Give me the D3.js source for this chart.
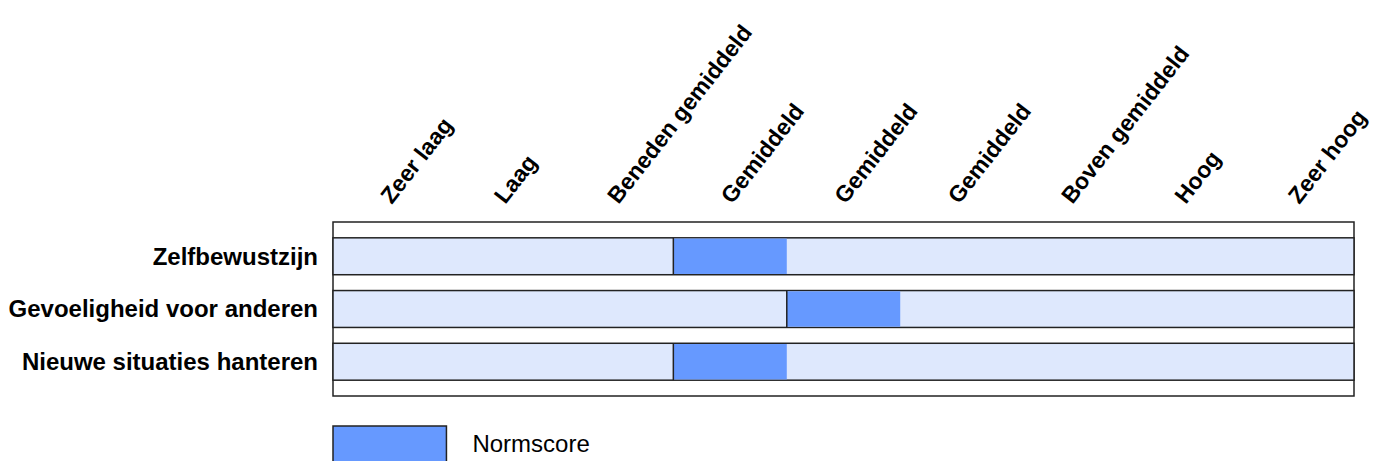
<!DOCTYPE html>
<head>
  <meta charset="utf-8">
  <script src="https://d3js.org/d3.v7.min.js"></script>
  <style>
    body { margin: 0; background: #fff; }
    text { font-family: "Liberation Sans", Arial, sans-serif; }
  </style>
</head>
<body>
  <div id="chart"></div>
</body>

<script>

// categories (columns) along the top
var levels = ["Zeer laag", "Laag", "Beneden gemiddeld", "Gemiddeld", "Gemiddeld",
              "Gemiddeld", "Boven gemiddeld", "Hoog", "Zeer hoog"];

// rows
var scales = ["Zelfbewustzijn", "Gevoeligheid voor anderen", "Nieuwe situaties hanteren"];

// norm score per row (1-based column)
var normscore = [4, 5, 4];

var legendLabel = "Normscore";

var W = 1381, H = 461;
var margin = {top: 222, left: 333, right: 27, bottom: 65};
var width = W - margin.left - margin.right,
    height = H - margin.top - margin.bottom;

var svg = d3.select("#chart")
  .append("svg")
    .attr("width", W)
    .attr("height", H)
  .append("g")
    .attr("transform", "translate(" + margin.left + "," + margin.top + ")");

var x = d3.scaleLinear()
  .domain([0, levels.length])
  .range([0, width]);

var y = d3.scaleBand()
  .domain(scales)
  .range([0, height])
  .paddingInner(0.3)
  .paddingOuter(0.3);

var colW = x(1) - x(0);

// outer frame
svg.append("rect")
  .attr("x", 0).attr("y", 0)
  .attr("width", width).attr("height", height)
  .style("fill", "#fff")
  .style("stroke", "#222")
  .style("stroke-width", 1.5);

// column labels, rotated
svg.append("g")
  .selectAll("text")
  .data(levels)
  .enter()
  .append("text")
    .attr("transform", function (d, i) {
      return "translate(" + (x(i) + colW / 2 + 2) + "," + (-17) + ") rotate(-52)";
    })
    .style("font-size", "23px")
    .style("font-weight", "bold")
    .text(function (d) { return d; });

// background bars
svg.append("g")
  .selectAll("rect")
  .data(scales)
  .enter()
  .append("rect")
    .attr("x", 0)
    .attr("y", function (d) { return y(d); })
    .attr("width", width)
    .attr("height", y.bandwidth())
    .style("fill", "#dee8fd")
    .style("stroke", "#222")
    .style("stroke-width", 1.5);

// norm score segments
var seg = svg.append("g")
  .selectAll("g")
  .data(scales)
  .enter()
  .append("g");

seg.append("rect")
  .attr("x", function (d, i) { return x(normscore[i] - 1); })
  .attr("y", function (d) { return y(d) + 0.75; })
  .attr("width", colW)
  .attr("height", y.bandwidth() - 1.5)
  .style("fill", "#6699ff");

seg.append("line")
  .attr("x1", function (d, i) { return x(normscore[i] - 1); })
  .attr("x2", function (d, i) { return x(normscore[i] - 1); })
  .attr("y1", function (d) { return y(d); })
  .attr("y2", function (d) { return y(d) + y.bandwidth(); })
  .style("stroke", "#222")
  .style("stroke-width", 1.5);

// row labels
svg.append("g")
  .selectAll("text")
  .data(scales)
  .enter()
  .append("text")
    .attr("x", -15)
    .attr("y", function (d) { return y(d) + y.bandwidth() / 2; })
    .attr("dy", "0.35em")
    .attr("text-anchor", "end")
    .style("font-size", "24px")
    .style("font-weight", "bold")
    .text(function (d) { return d; });

// legend
var legend = svg.append("g")
  .attr("transform", "translate(0," + (height + 30) + ")");

legend.append("rect")
  .attr("x", 0).attr("y", 0)
  .attr("width", colW).attr("height", 40)
  .style("fill", "#6699ff")
  .style("stroke", "#222")
  .style("stroke-width", 1.5);

legend.append("text")
  .attr("x", colW + 26)
  .attr("y", 26)
  .style("font-size", "24px")
  .text(legendLabel);

</script>
